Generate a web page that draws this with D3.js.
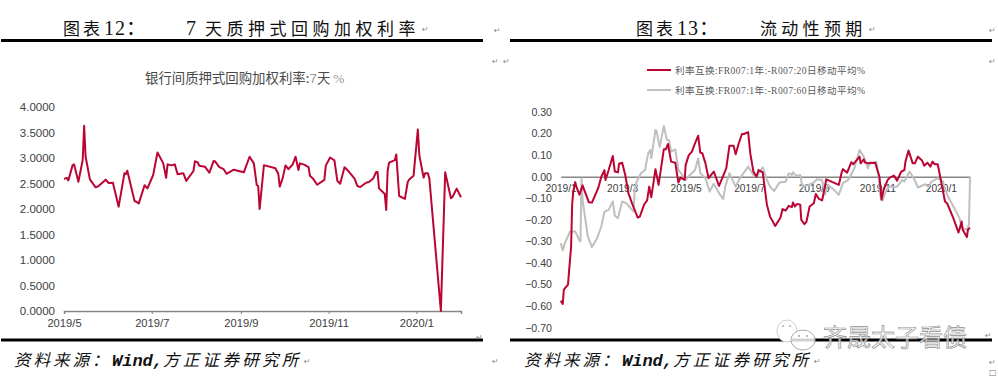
<!DOCTYPE html>
<html>
<head>
<meta charset="utf-8">
<style>
  html, body { margin: 0; padding: 0; background: #fff; }
  svg { display: block; }
  .cn { font-family: "Noto Sans CJK SC", sans-serif; }
  .tick text { font-family: "Liberation Sans", Arial, sans-serif; fill: #404040; }
  .mark { font-family: "DejaVu Sans", sans-serif; font-size: 8px; fill: #8a8a8a; }
</style>
<script src="https://cdn.jsdelivr.net/npm/d3@7"></script>
</head>
<body>
<div id="chart"></div>
<script>
// Left chart: days counted from the first axis date
const repoStart = "2019-05-01";
const repoDays = [0,2,3,6,7,10,13,14,15,18,22,24,29,31,34,38,42,43,44,49,52,56,58,62,65,69,71,72,75,77,79,83,85,90,91,93,94,98,101,104,105,108,111,113,118,125,129,132,134,135,136,139,147,149,150,152,154,156,159,161,163,164,167,170,171,173,176,181,182,185,188,190,192,195,197,202,204,206,210,212,215,217,218,219,223,224,225,226,230,231,233,237,239,240,243,246,247,250,251,253,254,262,265,269,270,273,276];
const repoRate = [2.59,2.61,2.56,2.86,2.875,2.535,2.96,3.63,3.03,2.58,2.425,2.45,2.575,2.51,2.515,2.045,2.70,2.685,2.75,2.16,2.11,2.465,2.405,2.667,3.11,2.895,2.61,2.875,2.855,2.875,2.68,2.70,2.55,2.745,2.935,2.915,2.85,2.83,2.71,2.94,2.935,2.82,2.78,2.69,2.77,2.72,3.025,2.895,2.47,2.45,2.0,2.86,2.80,2.685,2.44,2.60,2.855,2.78,2.875,3.025,2.765,2.895,2.87,2.82,2.65,2.60,2.475,2.57,2.85,3.01,2.955,2.555,2.495,2.82,2.765,2.595,2.45,2.43,2.515,2.53,2.60,2.725,2.725,2.405,2.295,1.98,2.75,2.91,2.96,3.07,2.255,2.20,2.535,2.58,2.65,3.56,3.06,2.615,2.70,2.70,2.60,0.0,2.72,2.21,2.23,2.40,2.23];
const repoTicks = ["2019-05-01","2019-07-01","2019-09-01","2019-11-01","2020-01-01"];
const repoYTicks = [0,0.5,1,1.5,2,2.5,3,3.5,4];
const repoTitle = "银行间质押式回购加权利率";

// Right chart: two moving average series
const swapStart = "2019-01-01";
const swapDays20 = [0,2,3,7,8,10,11,12,14,15,18,21,27,30,36,39,42,43,46,50,52,55,56,59,62,65,69,74,76,80,83,85,87,91,94,99,101,103,106,110,113,115,119,120,123,126,128,132,134,136,139,142,147,152,157,159,162,166,168,171,174,176,180,182,185,188,190,194,198,201,206,211,213,216,219,222,223,225,227,230,231,234,236,239,243,245,248,251,254,255,267,270,271,275,279,281,287,288,291,292,295,302,306,307,308,310,314,316,320,323,327,330,331,334,338,340,343,347,349,352,355,357,359,362,365,369,371,377,382,385,386,390,391,393];
const swapValues20 = [-0.575,-0.59,-0.524,-0.50,-0.44,-0.324,-0.13,-0.07,-0.025,-0.046,-0.083,-0.04,-0.118,-0.12,-0.053,0,0.03,-0.015,0.03,0.096,0.024,0.02,0.06,0.065,0.008,-0.076,-0.13,-0.19,-0.185,-0.13,-0.11,-0.046,-0.095,0.035,-0.038,0.127,0.127,0.152,0.07,0.065,-0.027,-0.004,-0.015,0.055,0.10,0.116,0.143,0.19,0.112,0.109,0.062,-0.007,0.024,-0.043,0.016,0.04,0.143,0.143,0.104,0.155,0.198,0.198,0.207,0.109,0.024,0,0.031,0.02,-0.13,-0.185,-0.228,-0.19,-0.15,-0.157,-0.135,-0.141,-0.12,-0.138,-0.126,-0.13,-0.2,-0.22,-0.208,-0.138,-0.123,-0.08,-0.103,-0.11,-0.038,-0.012,-0.038,0.024,0.035,0.019,0.067,0.058,0.093,0.062,0.081,0.067,0.062,0.065,0,-0.046,-0.107,-0.061,-0.015,-0.004,0.005,-0.018,0.024,0.031,0.07,0.121,0.062,0.062,0.093,0.075,0.051,0.065,0.047,0.07,0.058,0.058,-0.015,-0.115,-0.123,-0.192,-0.259,-0.208,-0.246,-0.28,-0.246,-0.236];
const swapDays60 = [0,2,4,9,14,18,19,20,21,26,30,35,39,42,46,50,52,55,59,63,70,71,73,77,81,84,86,87,91,92,95,99,102,104,106,110,113,116,120,124,129,132,134,139,143,147,152,156,158,162,168,172,180,185,188,194,198,201,205,210,216,219,222,223,226,230,232,238,243,246,251,254,256,262,267,271,276,282,287,291,295,297,301,303,305,307,309,312,315,323,328,330,335,339,343,350,353,356,362,367,371,383,385,390,392,393];
const swapValues60 = [-0.308,-0.342,-0.308,-0.254,-0.254,-0.296,-0.30,-0.007,-0.107,-0.277,-0.326,-0.285,-0.231,-0.162,-0.154,-0.115,-0.181,-0.192,-0.115,-0.123,-0.162,-0.061,-0.023,0.016,0.031,0.109,0.124,0.086,0.217,0.213,0.137,0.235,0.17,0.17,0.116,0.127,0.031,0.013,-0.015,0.008,0.031,0.086,0.016,-0.007,-0.069,-0.033,-0.076,-0.104,-0.046,0.016,-0.046,-0.007,0.047,0.008,0,0.044,-0.015,-0.046,-0.066,-0.027,-0.023,0.016,0.008,0.021,0.004,0.008,-0.046,-0.038,-0.027,-0.012,-0.015,-0.084,-0.038,-0.058,-0.084,-0.03,-0.015,0.039,0.124,0.093,0.039,0.067,0.065,0.07,0.016,-0.092,-0.11,-0.069,-0.046,-0.046,-0.015,-0.023,0.024,-0.007,-0.05,-0.035,-0.046,-0.023,-0.007,-0.023,-0.084,-0.192,-0.238,-0.246,-0.223,0.0];
const swapTicks = ["2019-01-01","2019-03-01","2019-05-01","2019-07-01","2019-09-01","2019-11-01","2020-01-01"];
const swapYTicks = [0.3,0.2,0.1,0,-0.1,-0.2,-0.3,-0.4,-0.5,-0.6,-0.7];
const swapLegend = ["利率互换:FR007:1年:-R007:20日移动平均%", "利率互换:FR007:1年:-R007:60日移动平均%"];

const red = "#bb0533";
const grey = "#bfbfbf";
const axisGrey = "#868686";

const parseDay = d3.timeParse("%Y-%m-%d");
const tickFormat = d3.timeFormat("%Y/%-m");

const svg = d3.select("#chart").append("svg")
    .attr("width", 998)
    .attr("height", 381);

// Dates for a series from its day offsets
function toDates(start, days) {
    return days.map(d => d3.timeDay.offset(parseDay(start), d));
}

function drawLine(g, x, y, dates, values, color) {
    const line = d3.line()
        .x((d, i) => x(dates[i]))
        .y(d => y(d));
    g.append("path")
        .datum(values)
        .attr("fill", "none")
        .attr("stroke", color)
        .attr("stroke-width", 2)
        .attr("stroke-linejoin", "round")
        .attr("d", line);
}

function styleXAxis(g, size) {
    g.select(".domain").attr("stroke", axisGrey).attr("stroke-width", 1.5);
    g.selectAll(".tick line").attr("stroke", axisGrey);
    g.selectAll(".tick text").style("font-size", size + "px");
}

function styleYAxis(g, size) {
    g.select(".domain").remove();
    g.selectAll(".tick line").remove();
    g.selectAll(".tick text").style("font-size", size + "px");
}

// Left chart
const repoDates = toDates(repoStart, repoDays);
const x1 = d3.scaleTime()
    .domain([parseDay(repoStart), repoDates[repoDates.length - 1]])
    .range([64, 461]);
const y1 = d3.scaleLinear().domain([0, 4]).range([311, 107]);

svg.append("g")
    .attr("transform", "translate(0,311)")
    .call(d3.axisBottom(x1)
        .tickValues(repoTicks.map(parseDay))
        .tickFormat(tickFormat)
        .tickSize(3)
        .tickSizeOuter(3)
        .tickPadding(5))
    .call(g => styleXAxis(g, 11.2));

svg.append("g")
    .attr("transform", "translate(61,0)")
    .call(d3.axisLeft(y1)
        .tickValues(repoYTicks)
        .tickFormat(d3.format(".4f"))
        .tickSize(0)
        .tickPadding(6))
    .call(g => styleYAxis(g, 11.5));

drawLine(svg.append("g"), x1, y1, repoDates, repoRate, red);

const chartTitle = svg.append("text")
    .attr("class", "cn")
    .attr("x", 145)
    .attr("y", 83)
    .attr("fill", "#4a4a4a")
    .style("font-size", "13.4px");
chartTitle.append("tspan").text(repoTitle + ":");
chartTitle.append("tspan").attr("fill", "#999").style("font-family", "Liberation Sans").text("7");
chartTitle.append("tspan").text("天 ");
chartTitle.append("tspan").attr("fill", "#999").style("font-family", "Liberation Serif").text("%");

// Right chart
const swapDates20 = toDates(swapStart, swapDays20);
const swapDates60 = toDates(swapStart, swapDays60);
const x2 = d3.scaleTime()
    .domain([parseDay(swapStart), swapDates20[swapDates20.length - 1]])
    .range([560.7, 970]);
const y2 = d3.scaleLinear().domain([-0.7, 0.3]).range([327.7, 112]);

svg.append("g")
    .attr("transform", `translate(0,${y2(0)})`)
    .call(d3.axisBottom(x2)
        .tickValues(swapTicks.map(parseDay))
        .tickFormat(tickFormat)
        .tickSize(0)
        .tickSizeOuter(0)
        .tickPadding(8))
    .call(g => styleXAxis(g, 10.2));

svg.append("g")
    .attr("transform", "translate(555,0)")
    .call(d3.axisLeft(y2)
        .tickValues(swapYTicks)
        .tickFormat(d3.format(".2f"))
        .tickSize(0)
        .tickPadding(3))
    .call(g => styleYAxis(g, 10.6));

const swapLines = svg.append("g");
drawLine(swapLines, x2, y2, swapDates60, swapValues60, grey);
drawLine(swapLines, x2, y2, swapDates20, swapValues20, red);

// Legend
[red, grey].forEach((color, i) => {
    const ly = 70 + i * 20;
    svg.append("line")
        .attr("x1", 647).attr("x2", 671)
        .attr("y1", ly).attr("y2", ly)
        .attr("stroke", color)
        .attr("stroke-width", 2);
    svg.append("text")
        .attr("x", 675)
        .attr("y", ly + 3.5)
        .attr("fill", "#595959")
        .style("font-family", "'Liberation Serif', 'Noto Sans CJK SC'")
        .style("font-size", "9.6px")
        .style("letter-spacing", "0.4px")
        .text(swapLegend[i]);
});

// Page furniture around the two charts
function headline(x, text, size, spacing, family) {
    return svg.append("text")
        .attr("class", "cn")
        .attr("x", x)
        .attr("y", 35)
        .attr("fill", "#111")
        .style("font-size", size + "px")
        .style("letter-spacing", spacing + "px")
        .style("font-family", family)
        .text(text);
}
const headSerif = "'Liberation Serif', 'Noto Sans CJK SC'";
const headCn = "'Noto Sans CJK SC'";
headline(63, "图表", 17, 3, headCn);
headline(104, "12：", 20, 1, headSerif);
headline(186, "7", 20, 0, headSerif);
headline(205, "天质押式回购加权利率", 17, 4.5, headCn);
headline(636, "图表", 17, 3, headCn);
headline(677, "13：", 20, 1, headSerif);
headline(760, "流动性预期", 17, 4.3, headCn);

[[1, 483], [510, 992]].forEach(([a, b]) => {
    [40.5, 340].forEach(ry => {
        svg.append("line")
            .attr("x1", a).attr("x2", b)
            .attr("y1", ry).attr("y2", ry)
            .attr("stroke", "#000")
            .attr("stroke-width", 3);
    });
});

// Source line, three runs so the Latin part lands where it should
function sourceLine(x) {
    const base = svg.append("g")
        .attr("fill", "#111")
        .style("font-style", "italic");
    base.append("text").attr("class", "cn").attr("x", x).attr("y", 366)
        .style("font-size", "16.5px").style("letter-spacing", "3px")
        .text("资料来源：");
    base.append("text").attr("x", x + 98).attr("y", 366)
        .style("font-family", "'Liberation Mono'")
        .style("font-weight", "bold")
        .style("font-size", "17px")
        .text("Wind,");
    base.append("text").attr("class", "cn").attr("x", x + 149).attr("y", 366)
        .style("font-size", "16.5px").style("letter-spacing", "3.3px")
        .text("方正证券研究所");
}
sourceLine(14);
sourceLine(524);

// Word paragraph marks
const marks = [[422, 32], [494, 33], [492, 64], [476, 340], [304, 364], [492, 364], [869, 32], [989, 33], [503, 64], [989, 64], [985, 338], [814, 364], [989, 365]];
svg.selectAll(".mark")
    .data(marks)
    .join("text")
    .attr("class", "mark")
    .attr("x", d => d[0])
    .attr("y", d => d[1])
    .text("↵");

// Watermark
const wm = svg.append("g");
wm.append("ellipse").attr("cx", 787).attr("cy", 331).attr("rx", 10).attr("ry", 11)
    .attr("fill", "#fff").attr("stroke", "#cfcfcf");
wm.append("ellipse").attr("cx", 803).attr("cy", 340).attr("rx", 12).attr("ry", 10)
    .attr("fill", "#fff").attr("stroke", "#aaa");
wm.append("line").attr("x1", 792).attr("x2", 814).attr("y1", 340).attr("y2", 340)
    .attr("stroke", "#d0d0d0").attr("stroke-width", 3);
wm.selectAll(".eye")
    .data([[783, 326], [790, 326], [799, 336], [807, 336]])
    .join("circle")
    .attr("class", "eye")
    .attr("cx", d => d[0])
    .attr("cy", d => d[1])
    .attr("r", 1)
    .attr("fill", "#aaa");
wm.append("text")
    .attr("class", "cn")
    .attr("x", 823)
    .attr("y", 346)
    .attr("fill", "#fff")
    .attr("fill-opacity", 0.75)
    .attr("stroke", "#909090")
    .attr("stroke-width", 0.7)
    .style("font-size", "24px")
    .text("齐晟太子看债");

svg.append("text")
    .attr("x", 989)
    .attr("y", 375)
    .attr("fill", "#777")
    .style("font-family", "'DejaVu Sans'")
    .style("font-size", "8px")
    .text("□");
</script>
</body>
</html>
